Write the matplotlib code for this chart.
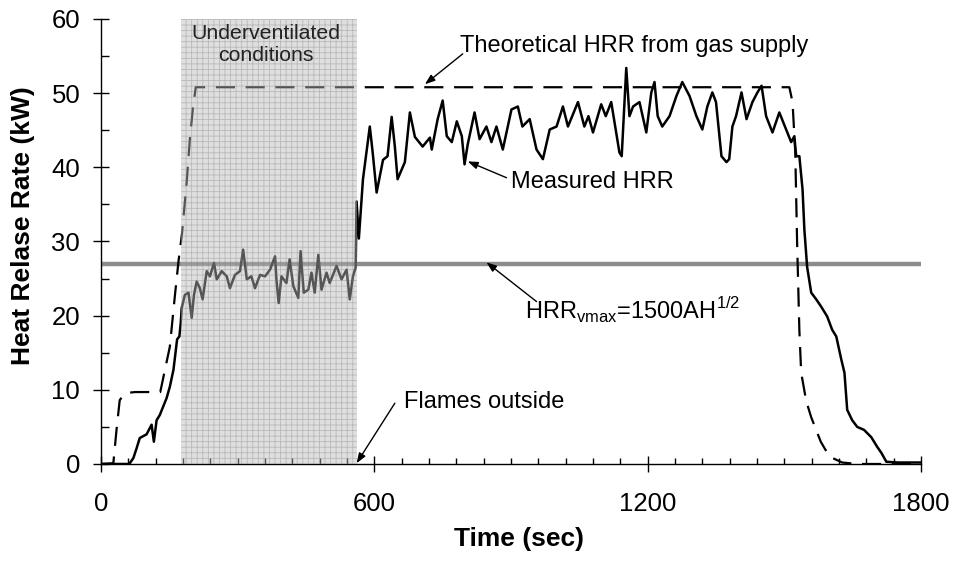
import matplotlib
matplotlib.use("Agg")
import matplotlib.pyplot as plt
from matplotlib.ticker import MultipleLocator

plt.rcParams.update({
    "font.family": ["Liberation Sans", "DejaVu Sans"],
    "mathtext.fontset": "custom",
    "mathtext.rm": "Liberation Sans",
    "hatch.linewidth": 0.6,
})

# theoretical HRR from the gas supply (dashed)
theo_t = [0, 27, 34, 41, 49, 60, 75, 112, 130, 151, 162, 170, 178, 188, 195,
          202, 208, 1511, 1518, 1524, 1528, 1533, 1537, 1548, 1559, 1580,
          1599, 1627, 1660, 1800]
theo_q = [0, 0.1, 4.6, 8.6, 9.3, 9.6, 9.7, 9.7, 9.7, 15.8, 22.6, 27.3, 31.2,
          38.0, 43.8, 48.2, 50.8, 50.8, 48.8, 42.0, 30.0, 18.0, 12.3, 8.5,
          6.3, 3.0, 1.0, 0.2, 0, 0]

# measured HRR (solid)
meas_t = [0, 62, 71, 78, 85, 100, 111, 116, 122, 129, 144, 151, 159, 167, 172,
          175, 177, 184, 192, 199, 204, 210, 217, 223, 232, 239, 248, 254, 265,
          276, 283, 294, 305, 312, 320, 330, 338, 349, 360, 371, 382, 385, 390,
          396, 407, 414, 422, 433, 438, 445, 455, 462, 469, 477, 484, 495, 502,
          517, 528, 539, 546, 553, 559, 561, 566, 575, 590, 596, 605, 619, 629,
          638, 645, 651, 667, 678, 689, 706, 722, 726, 739, 750, 759, 770, 781,
          792, 798, 805, 820, 831, 846, 857, 868, 882, 901, 915, 925, 941, 956,
          970, 985, 1000, 1014, 1025, 1047, 1061, 1070, 1080, 1098, 1108, 1120,
          1138, 1143, 1153, 1160, 1168, 1182, 1197, 1208, 1215, 1222, 1232,
          1248, 1263, 1276, 1292, 1307, 1320, 1331, 1342, 1350, 1362, 1373,
          1379, 1386, 1394, 1406, 1417, 1430, 1441, 1450, 1460, 1474, 1489,
          1504, 1515, 1522, 1526, 1533, 1540, 1544, 1550, 1559, 1570, 1581,
          1594, 1605, 1614, 1625, 1632, 1638, 1649, 1660, 1675, 1691, 1704,
          1713, 1724, 1750, 1800]
meas_q = [0, 0, 0.8, 2.1, 3.5, 4.0, 5.3, 3.0, 5.9, 6.6, 8.9, 10.4, 12.7, 16.8,
          17.2, 19.0, 21.0, 22.8, 23.1, 19.7, 22.8, 24.6, 23.7, 22.2, 26.0,
          25.3, 27.1, 24.9, 26.0, 25.3, 23.7, 25.5, 26.0, 28.9, 24.9, 25.3,
          23.7, 25.5, 25.3, 26.2, 28.0, 24.9, 21.7, 25.3, 24.4, 27.6, 24.0,
          22.4, 28.7, 23.1, 23.5, 25.8, 23.1, 28.2, 23.5, 25.8, 24.4, 26.7,
          24.9, 26.2, 22.2, 25.3, 26.5, 35.4, 30.4, 38.4, 45.5, 42.2, 36.6,
          41.0, 41.5, 46.8, 42.8, 38.4, 40.7, 47.4, 44.1, 42.8, 44.0, 42.4,
          46.5, 49.0, 44.2, 43.4, 46.2, 44.2, 40.4, 43.1, 47.4, 43.8, 45.5,
          43.4, 45.5, 42.4, 47.8, 48.2, 45.5, 46.5, 42.4, 41.1, 45.1, 45.5,
          48.2, 45.5, 48.8, 45.5, 46.9, 44.7, 48.5, 46.9, 48.8, 42.0, 41.5,
          53.4, 46.9, 48.2, 48.8, 44.7, 50.1, 51.5, 46.9, 45.5, 46.9, 49.6,
          51.5, 49.6, 46.9, 45.1, 48.2, 50.1, 48.8, 41.5, 40.7, 41.1, 45.5,
          46.9, 50.1, 46.5, 48.8, 50.1, 51.0, 46.9, 44.7, 47.4, 45.1, 43.4,
          44.2, 41.5, 41.5, 37.0, 31.6, 26.6, 23.1, 22.2, 21.2, 19.9, 18.1,
          17.2, 14.1, 12.3, 7.3, 5.9, 5.0, 4.6, 3.6, 2.3, 1.5, 0.3, 0.2, 0.2]

hrr_vmax = 26.9
under_vent = (175, 561)   # underventilated period (s)

fig = plt.figure(figsize=(9.54, 5.62), dpi=100)
ax = fig.add_axes([0.1059, 0.1744, 0.8595, 0.7918])

ax.axhline(hrr_vmax, color="#8c8c8c", lw=3.2, zorder=1)
ax.plot(theo_t, theo_q, color="black", lw=1.6, dashes=(8.6, 4.8), zorder=2)
ax.plot(meas_t, meas_q, color="black", lw=1.8, zorder=3)
ax.axvspan(*under_vent, facecolor=(0.73, 0.73, 0.73, 0.45),
           edgecolor=(0.45, 0.45, 0.45, 0.35), hatch="+++", lw=0, zorder=4)

ax.text(362, 56.5, "Underventilated\nconditions", ha="center", va="center",
        fontsize=15.3, color="#222222", zorder=5)

arrow = dict(arrowstyle="-|>,head_length=0.6,head_width=0.22", color="black",
             lw=1.0, shrinkA=0, shrinkB=0)
ax.annotate("", xy=(711, 51.2), xytext=(794, 55.3), arrowprops=arrow)
ax.annotate("", xy=(805, 40.8), xytext=(890, 38.6), arrowprops=arrow)
ax.annotate("", xy=(846, 27.2), xytext=(956, 21.9), arrowprops=arrow)
ax.annotate("", xy=(561, 0.1), xytext=(645, 8.2), arrowprops=arrow)

ax.text(787, 56.4, "Theoretical HRR from gas supply", fontsize=17,
        va="center", ha="left")
ax.text(901, 38.0, "Measured HRR", fontsize=17, va="center", ha="left")
ax.text(930, 20.6, r"HRR$_{\mathregular{vmax}}$=1500AH$^{\mathregular{1/2}}$",
        fontsize=17, va="center", ha="left")
ax.text(664, 8.4, "Flames outside", fontsize=17, va="center", ha="left")

ax.set_xlim(0, 1800)
ax.set_ylim(0, 60)
ax.set_xticks([0, 600, 1200, 1800])
ax.xaxis.set_minor_locator(MultipleLocator(60))
ax.yaxis.set_major_locator(MultipleLocator(10))
ax.yaxis.set_minor_locator(MultipleLocator(5))

for s in ("top", "right"):
    ax.spines[s].set_visible(False)
for s in ("left", "bottom"):
    ax.spines[s].set_linewidth(1.0)

ax.tick_params(which="major", direction="inout", length=12, width=1.0,
               labelsize=18.5)
ax.tick_params(axis="x", which="major", pad=14)
ax.tick_params(axis="y", which="major", pad=9)
ax.tick_params(axis="x", which="minor", direction="in", length=4, width=1.0)
ax.tick_params(axis="y", which="minor", direction="in", length=6, width=1.0)

ax.set_xlabel("Time (sec)", fontsize=19, fontweight="bold")
ax.set_ylabel("Heat Relase Rate (kW)", fontsize=19, fontweight="bold")
ax.xaxis.set_label_coords(0.51, -0.142)
ax.yaxis.set_label_coords(-0.0805, 0.535)

fig.savefig("out.png", dpi=100)
